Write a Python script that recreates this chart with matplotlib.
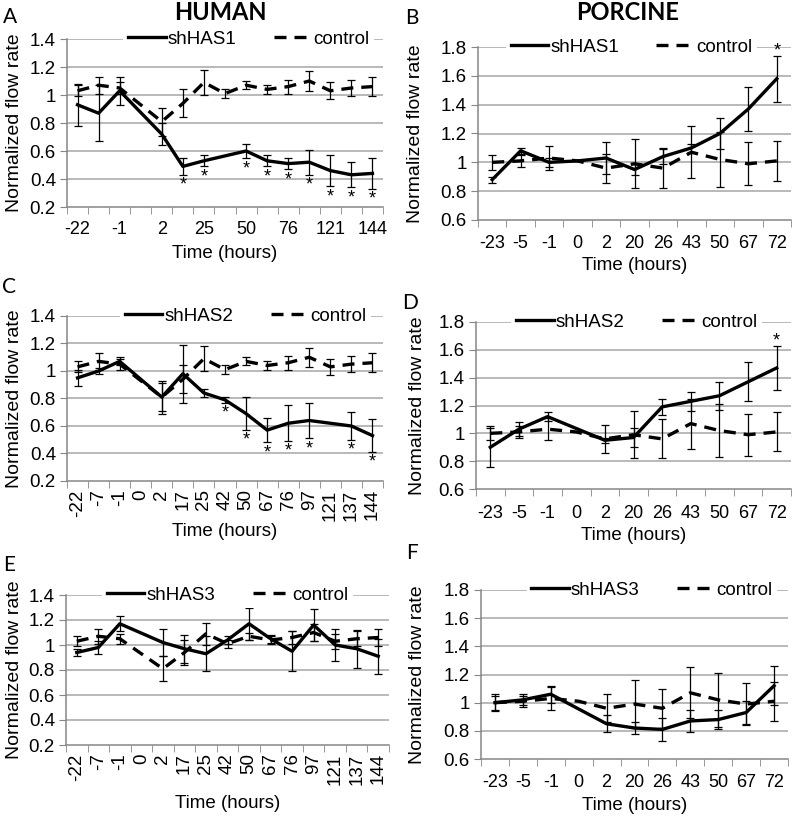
import numpy as np
import matplotlib.pyplot as plt
from matplotlib.ticker import FixedLocator, FuncFormatter

plt.rcParams['font.family'] = ['Liberation Sans', 'DejaVu Sans']

nan = np.nan

# categories (hours)
human_times = ['-22', '-7', '-1', '0', '2', '17', '25', '42', '50', '67', '76', '97', '121', '137', '144']
porcine_times = ['-23', '-5', '-1', '0', '2', '20', '26', '43', '50', '67', '72']

# human control (same in A, C, E)
human_ctrl = [1.03, 1.07, 1.05, nan, 0.81, 0.94, 1.09, 1.01, 1.07, 1.04, 1.06, 1.10, 1.03, 1.05, 1.06]
human_ctrl_err = [0.04, 0.06, 0.04, nan, 0.10, 0.10, 0.09, 0.03, 0.03, 0.03, 0.05, 0.07, 0.06, 0.06, 0.07]

human_has1 = [0.93, 0.87, 1.03, nan, 0.72, 0.49, 0.53, nan, 0.60, 0.53, 0.51, 0.52, 0.46, 0.43, 0.44]
human_has1_err = [0.15, 0.20, 0.10, nan, 0.08, 0.06, 0.04, nan, 0.05, 0.04, 0.04, 0.09, 0.11, 0.09, 0.11]
human_has1_sig = [0, 0, 0, 0, 0, 1, 1, 0, 1, 1, 1, 1, 1, 1, 1]

human_has2 = [0.95, 1.00, 1.07, nan, 0.81, 0.98, 0.84, 0.79, 0.69, 0.57, 0.62, 0.64, nan, 0.60, 0.53]
human_has2_err = [0.06, 0.02, 0.03, nan, 0.12, 0.21, 0.03, 0.02, 0.12, 0.09, 0.13, 0.13, nan, 0.10, 0.12]
human_has2_sig = [0, 0, 0, 0, 0, 0, 0, 1, 1, 1, 1, 1, 0, 1, 1]

human_has3 = [0.94, 0.98, 1.17, nan, 1.02, 0.97, 0.93, 1.04, 1.17, 1.05, 0.95, 1.16, 1.00, 0.97, 0.91]
human_has3_err = [0.03, 0.05, 0.06, nan, 0.11, 0.11, 0.14, 0.03, 0.13, 0.03, 0.16, 0.13, 0.13, 0.15, 0.14]
human_has3_sig = [0] * 15

# porcine control (same in B, D, F)
porcine_ctrl = [1.00, 1.01, 1.03, 1.01, 0.96, 0.99, 0.96, 1.07, 1.02, 0.99, 1.01]
porcine_ctrl_err = [0.05, 0.04, 0.08, nan, 0.10, 0.17, 0.14, 0.18, 0.19, 0.15, 0.14]

porcine_has1 = [0.88, 1.08, 1.00, 1.01, 1.03, 0.95, 1.04, 1.10, 1.20, 1.37, 1.58]
porcine_has1_err = [0.02, 0.02, 0.03, nan, 0.11, 0.04, 0.05, 0.03, 0.11, 0.15, 0.16]
porcine_has1_sig = [0, 0, 0, 0, 0, 0, 0, 0, 0, 0, 1]

porcine_has2 = [0.90, 1.03, 1.12, nan, 0.95, 0.97, 1.19, 1.23, 1.27, 1.37, 1.47]
porcine_has2_err = [0.14, 0.05, 0.03, nan, 0.02, 0.07, 0.06, 0.07, 0.10, 0.14, 0.16]
porcine_has2_sig = [0, 0, 0, 0, 0, 0, 0, 0, 0, 0, 1]

porcine_has3 = [1.00, 1.02, 1.06, nan, 0.85, 0.82, 0.81, 0.87, 0.88, 0.93, 1.12]
porcine_has3_err = [0.06, 0.04, 0.06, nan, 0.06, 0.04, 0.08, 0.08, 0.07, 0.08, 0.14]
porcine_has3_sig = [0] * 11

W, H = 794, 817
GRID = '#a6a6a6'
SPINE = '#868686'

fig = plt.figure(figsize=(W / 100, H / 100), dpi=100)


def fmt(v, pos):
    return f'{v:g}'


def draw_panel(box, times, vals, errs, sig, ctrl, ctrl_err, name, ylim,
               step, rotate, legend_x, ylab_x, xlab_y, star_below, xpad, xsize):
    l, t, r, b = box
    ax = fig.add_axes([l / W, 1 - b / H, (r - l) / W, (b - t) / H])
    n = len(times)
    x = np.arange(n)
    vals = np.array(vals, float)
    errs = np.array(errs, float)
    ctrl = np.array(ctrl, float)
    ctrl_err = np.array(ctrl_err, float)

    for yv in np.arange(ylim[0] + 0.2, ylim[1] + 0.01, 0.2):
        ax.axhline(yv, color=GRID, lw=1.1, zorder=0)

    m = ~np.isnan(ctrl)
    lc, = ax.plot(x[m], ctrl[m], color='black', lw=2.4,
                  linestyle=(0, (3.6, 2.4)), dash_capstyle='butt', zorder=3)
    m = ~np.isnan(vals)
    ls, = ax.plot(x[m], vals[m], color='black', lw=2.4, zorder=4)

    ax.errorbar(x, ctrl, yerr=ctrl_err, fmt='none', ecolor='black',
                elinewidth=0.9, capsize=3, capthick=0.9, zorder=5)
    ax.errorbar(x, vals, yerr=errs, fmt='none', ecolor='black',
                elinewidth=0.9, capsize=3, capthick=0.9, zorder=5)

    for i in range(n):
        if sig[i]:
            if star_below:
                ax.text(x[i], vals[i] - errs[i] - 0.075, '*', ha='center',
                        va='center', fontsize=13)
            else:
                ax.text(x[i], vals[i] + errs[i] + 0.03, '*', ha='center',
                        va='center', fontsize=13)

    ax.set_xlim(-0.5, n - 0.5)
    ax.set_ylim(*ylim)
    for s in ['top', 'right']:
        ax.spines[s].set_visible(False)
    for s in ['left', 'bottom']:
        ax.spines[s].set_color(SPINE)
        ax.spines[s].set_linewidth(1.1)

    ax.set_yticks(np.arange(ylim[0], ylim[1] + 0.01, 0.2))
    ax.yaxis.set_major_formatter(FuncFormatter(fmt))
    ax.tick_params(axis='y', length=5, color=SPINE, labelsize=13.5, pad=3)

    labels = [tl if i % step == 0 else '' for i, tl in enumerate(times)]
    ax.set_xticks(x)
    ax.set_xticklabels(labels, rotation=90 if rotate else 0,
                       va='top', ha='center')
    ax.xaxis.set_minor_locator(FixedLocator(np.arange(-0.5, n, 1.0)))
    ax.tick_params(axis='x', which='major', length=0, labelsize=xsize, pad=xpad)
    ax.tick_params(axis='x', which='minor', length=5, color=SPINE)

    ax.set_ylabel('Normalized flow rate', fontsize=14, va='center')
    ax.yaxis.set_label_coords((ylab_x - l) / (r - l), 0.5)
    ax.set_xlabel('Time (hours)', fontsize=13.5, va='center')
    ax.xaxis.set_label_coords(0.5, (b - xlab_y) / (b - t))

    leg = ax.legend([ls, lc], [name, 'control'], loc='center',
                    bbox_to_anchor=(legend_x, 1.0), ncol=2, fontsize=13.5,
                    frameon=True, facecolor='white', edgecolor='none',
                    framealpha=1, handlelength=2.0, handletextpad=0.1,
                    columnspacing=2.0, borderpad=0.25, borderaxespad=0)
    leg.set_zorder(10)
    return ax


# left, top, right, bottom in pixels
draw_panel((67, 39, 383, 207), human_times, human_has1, human_has1_err, human_has1_sig,
           human_ctrl, human_ctrl_err, 'shHAS1', (0.2, 1.4), 2, False, 0.575, 15, 254, True, 10, 13)
draw_panel((478, 47, 791, 220), porcine_times, porcine_has1, porcine_has1_err, porcine_has1_sig,
           porcine_ctrl, porcine_ctrl_err, 'shHAS1', (0.6, 1.8), 1, False, 0.49, 415, 266, False, 11, 13)
draw_panel((67, 316, 383, 481), human_times, human_has2, human_has2_err, human_has2_sig,
           human_ctrl, human_ctrl_err, 'shHAS2', (0.2, 1.4), 1, True, 0.565, 15, 532, True, 6, 13.5)
draw_panel((476, 322, 791, 489), porcine_times, porcine_has2, porcine_has2_err, porcine_has2_sig,
           porcine_ctrl, porcine_ctrl_err, 'shHAS2', (0.6, 1.8), 1, False, 0.51, 418, 536, False, 11.5, 13)
draw_panel((66, 595, 389, 745), human_times, human_has3, human_has3_err, human_has3_sig,
           human_ctrl, human_ctrl_err, 'shHAS3', (0.2, 1.4), 1, True, 0.50, 15, 803, True, 6, 13.5)
draw_panel((481, 590, 788, 759), porcine_times, porcine_has3, porcine_has3_err, porcine_has3_sig,
           porcine_ctrl, porcine_ctrl_err, 'shHAS3', (0.6, 1.8), 1, False, 0.557, 418, 806, False, 11, 13)

# headings and panel letters
fig.text(220 / W, 1 - 13 / H, 'HUMAN', fontfamily='Lato', fontweight='bold',
         fontsize=17, ha='center', va='center')
fig.text(628 / W, 1 - 13 / H, 'PORCINE', fontfamily='Lato', fontweight='bold',
         fontsize=17, ha='center', va='center')
for letter, px, py in [('A', 3, 17), ('B', 405, 18), ('C', 2, 287),
                       ('D', 402, 303), ('E', 3, 565), ('F', 406, 553)]:
    fig.text(px / W, 1 - py / H, letter, fontfamily='Lato', fontsize=15,
             ha='left', va='center')

fig.savefig('out.png', dpi=100)
